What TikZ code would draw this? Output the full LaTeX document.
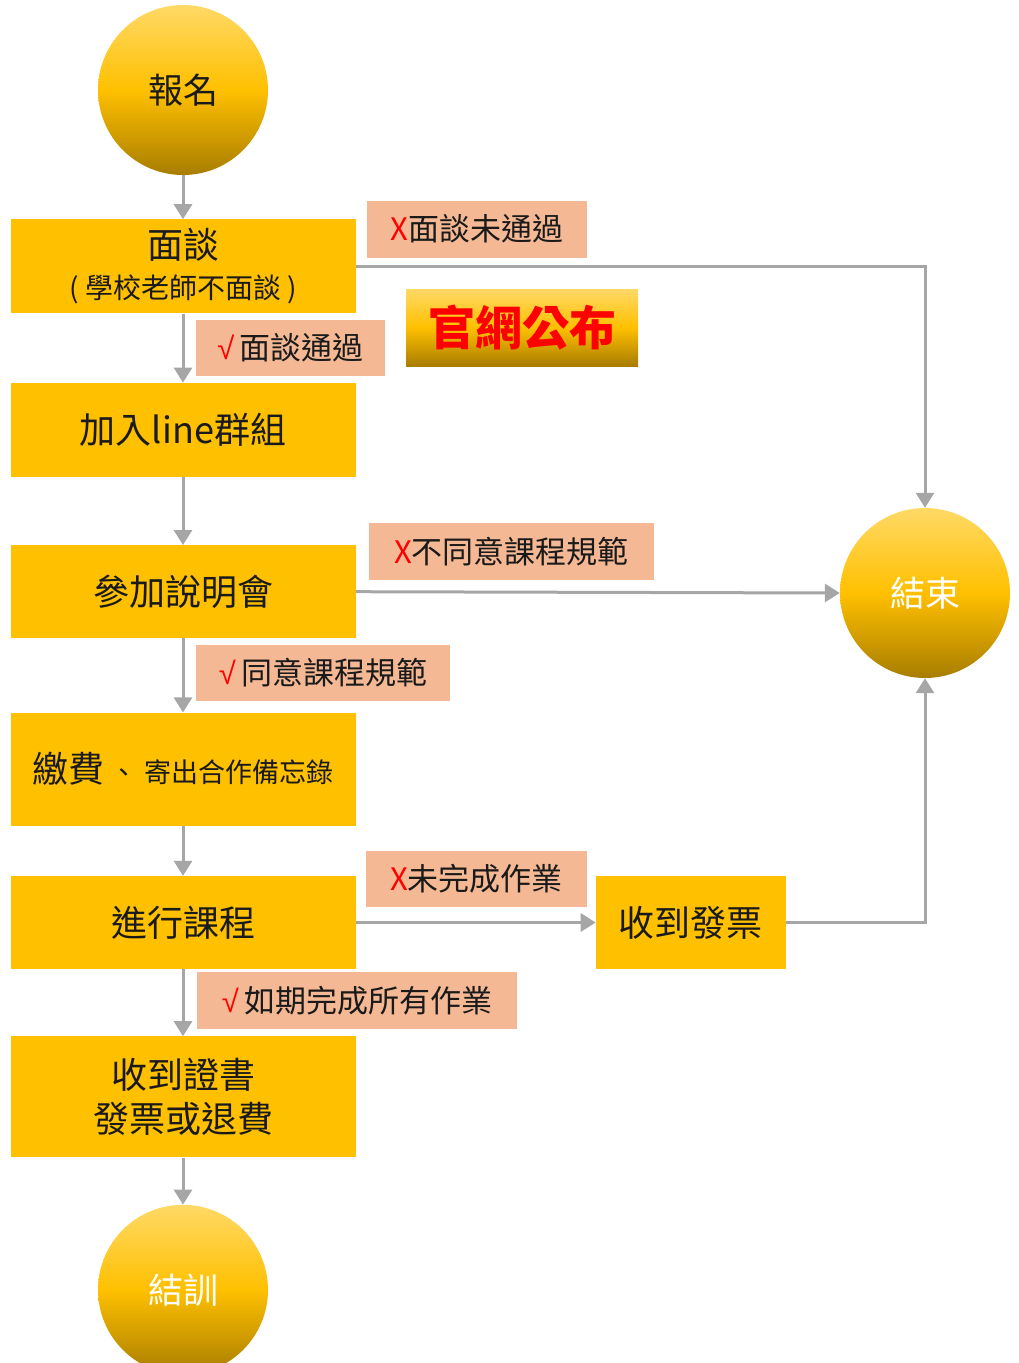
\documentclass[tikz,border=0pt]{standalone}
\usepackage{fontspec}
\setmainfont{Noto Sans CJK TC}
\newfontfamily\marksym{Liberation Sans}
\usetikzlibrary{positioning,arrows.meta}
\definecolor{stepyellow}{HTML}{FFC000}
\definecolor{notepeach}{HTML}{F4B994}
\definecolor{linegray}{HTML}{A6A6A6}
\definecolor{goldtop}{HTML}{FFD966}
\definecolor{goldbot}{HTML}{A87D00}
\definecolor{darktext}{HTML}{1A1A1A}
\tikzset{
  stepbox/.style={rectangle,fill=stepyellow,minimum width=345pt,minimum height=94pt,inner sep=0pt,align=center,text=darktext,font=\fontsize{36pt}{44pt}\selectfont},
  endball/.style={circle,top color=goldtop,bottom color=goldbot,middle color=stepyellow,minimum size=170pt,inner sep=0pt,font=\fontsize{35pt}{40pt}\selectfont},
  notebox/.style={rectangle,fill=notepeach,minimum height=57pt,inner sep=0pt,text=darktext,font=\fontsize{31pt}{36pt}\selectfont},
  flowline/.style={draw=linegray,line width=3pt,-{Triangle[width=18pt,length=15pt]}},
}
\newcommand{\nomark}{{\color{red}X}}
\newcommand{\okmark}{{\color{red}\marksym √\,}}
\begin{document}
\begin{tikzpicture}[x=1pt,y=-1pt]
\useasboundingbox (0,0) rectangle (1018,1363);
\node[endball,text=darktext](start) at (183,90){報名};
\node[stepbox,below=44pt of start](interview){面談\\[-4pt]{\fontsize{28pt}{32pt}\selectfont (\ 學校老師不面談\ )}};
\node[stepbox,below=69pt of interview](linegrp){加入line群組};
\node[stepbox,below=68pt of linegrp,minimum height=93pt](session){參加說明會};
\node[stepbox,below=74pt of session,minimum height=113pt](pay){繳費{\fontsize{27pt}{32pt}\selectfont\ 、\ 寄出合作備忘錄}};
\node[stepbox,below=50pt of pay,minimum height=93pt](course){進行課程};
\node[stepbox,right=240pt of course,minimum width=190pt,minimum height=93pt](invoice){收到發票};
\node[stepbox,below=67pt of course,minimum height=121pt](cert){收到證書\\發票或退費};
\node[endball,text=white,below=47pt of cert](finish){結訓};
\node[endball,text=white](end) at (925,593){結束};
\node[rectangle,top color=goldtop,bottom color=goldbot,middle color=stepyellow,minimum width=232pt,minimum height=77pt,text=red,font=\fontsize{47pt}{52pt}\selectfont\bfseries](notice) at (522,327.5){官網公布};
\node[notebox,minimum width=220pt](fail1) at (477,229){\nomark 面談未通過};
\node[notebox,minimum width=189pt,minimum height=56pt](pass1) at (290.5,348){\okmark 面談通過};
\node[notebox,minimum width=285pt](fail2) at (511.5,551.5){\nomark 不同意課程規範};
\node[notebox,minimum width=254pt,minimum height=56pt](pass2) at (323,673){\okmark 同意課程規範};
\node[notebox,minimum width=221pt,minimum height=56pt](fail3) at (476.5,879){\nomark 未完成作業};
\node[notebox,minimum width=320pt](pass3) at (357,1000.5){\okmark 如期完成所有作業};
\draw[flowline] (start) -- (interview);
\draw[flowline] (interview) -- (linegrp);
\draw[flowline] (linegrp) -- (session);
\draw[flowline] (session) -- (pay);
\draw[flowline] (pay) -- (course);
\draw[flowline] (course) -- (cert);
\draw[flowline] (cert) -- (finish);
\draw[flowline] (interview.east) -| (end.north);
\draw[flowline] (session.east) -- (end.west);
\draw[flowline] (course) -- (invoice);
\draw[flowline] (invoice.east) -| (end.south);
\end{tikzpicture}
\end{document}
